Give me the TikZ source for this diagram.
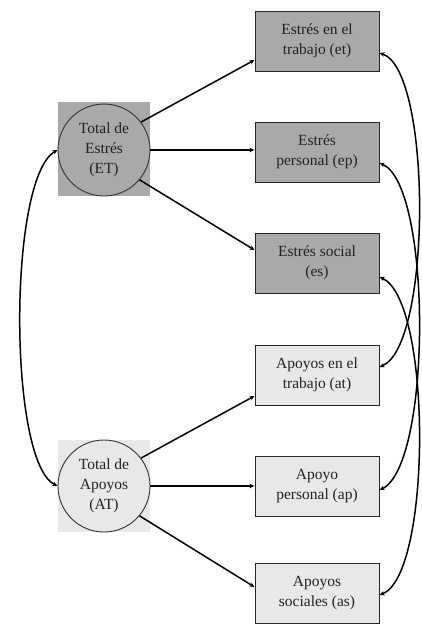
\documentclass[tikz,border=0pt]{standalone}
\usepackage{fontspec}
\setmainfont{Liberation Serif}
\usetikzlibrary{arrows.meta,calc}
\definecolor{darkfill}{HTML}{A9A9A9}
\definecolor{lightfill}{HTML}{E8E8E8}
\definecolor{txt}{HTML}{222222}
\tikzset{
  boxnode/.style={draw=black!85,line width=1pt,minimum width=124pt,minimum height=60pt,align=center,font=\fontsize{15.5}{20}\selectfont,text=txt,inner sep=1pt},
  darkbox/.style={boxnode,fill=darkfill},
  lightbox/.style={boxnode,fill=lightfill},
  latent/.style={circle,draw=black!80,line width=0.9pt,minimum size=92pt,align=center,font=\fontsize{15.5}{20}\selectfont,text=txt,inner sep=0pt},
  conn/.style={line width=1.5pt,-{Stealth[length=5pt,width=4.5pt]}},
  dconn/.style={line width=1.5pt,{Stealth[length=5pt,width=4.5pt]}-{Stealth[length=5pt,width=4.5pt]}},
}
\begin{document}
\begin{tikzpicture}[x=1pt,y=-1pt]
\useasboundingbox (0,0) rectangle (422,624);
\fill[white] (0,0) rectangle (422,624);
% background squares
\fill[darkfill] (58,102) rectangle (150,196);
\fill[lightfill] (58,440) rectangle (150,532);
\node[latent,fill=darkfill] (ET) at (104,150) {Total de\\Estrés\\(ET)};
\node[latent,fill=lightfill] (AT) at (104,486) {Total de\\Apoyos\\(AT)};
\node[darkbox] (e1) at (317,41) {Estrés en el\\trabajo (et)};
\node[darkbox] (e2) at (317,152) {Estrés\\personal (ep)};
\node[darkbox] (e3) at (317,263) {Estrés social\\(es)};
\node[lightbox] (a1) at (317,375) {Apoyos en el\\trabajo (at)};
\node[lightbox] (a2) at (317,486) {Apoyo\\personal (ap)};
\node[lightbox] (a3) at (317,593) {Apoyos\\sociales (as)};
% loadings
\draw[conn] (ET.37) -- ($(e1.west)+(0,19)$);
\draw[conn] (ET.east) -- ($(e2.west)+(0,-2)$);
\draw[conn] (ET.-40) -- ($(e3.west)+(0,-13)$);
\draw[conn] (AT.37) -- ($(a1.west)+(0,21)$);
\draw[conn] (AT.east) -- ($(a2.west)+(0,0)$);
\draw[conn] (AT.-40) -- ($(a3.west)+(0,-6)$);
% covariance between factors
\draw[dconn] (ET.west) .. controls (8,178) and (8,462) .. (AT.west);
% error covariances
\coordinate (r1) at ($(e1.east)+(0,12)$);
\coordinate (r4) at ($(a1.east)+(0,-8)$);
\coordinate (r2) at ($(e2.east)+(0,11)$);
\coordinate (r5) at ($(a2.east)+(0,4)$);
\coordinate (r3) at ($(e3.east)+(0,14)$);
\coordinate (r6) at ($(a3.east)+(0,2)$);
\draw[dconn] (r1) .. controls (432,70) and (432,345) .. (r4);
\draw[dconn] (r2) .. controls (432,185) and (432,465) .. (r5);
\draw[dconn] (r3) .. controls (432,300) and (432,575) .. (r6);
\end{tikzpicture}
\end{document}
